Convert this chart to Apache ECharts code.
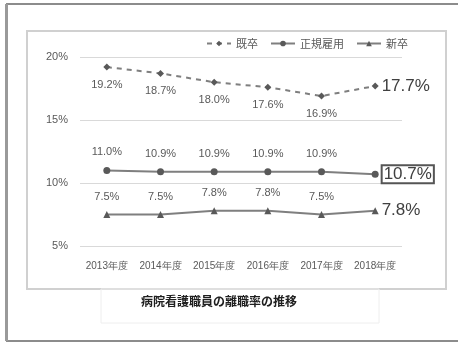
<!DOCTYPE html>
<html><head><meta charset="utf-8">
<script src="https://cdn.jsdelivr.net/npm/echarts@6/dist/echarts.min.js"></script>
<style>html,body{margin:0;padding:0;background:#fff}#c{width:458px;height:345px}</style>
</head><body><div id="c"></div>
<script>
const categories = ['2013年度','2014年度','2015年度','2016年度','2017年度','2018年度'];
const seriesNames = ['既卒','正規雇用','新卒'];
const kisotsu = [19.2, 18.7, 18.0, 17.6, 16.9, 17.7];
const seiki = [11.0, 10.9, 10.9, 10.9, 10.9, 10.7];
const shinsotsu = [7.5, 7.5, 7.8, 7.8, 7.5, 7.8];
const yTicks = [5, 10, 15, 20];
const title = '病院看護職員の離職率の推移';

const FONT = '"Liberation Sans Narrow","Liberation Sans",sans-serif';
const gray = '#7f7f7f';
function series(name, data, pos, sym, lineType, boxed){
  const n = data.length;
  return {
    name: name, type: 'line', data: data.map((v,i)=>{
      if (i === n-1) {
        return {value: v, label: {position: 'right', distance: 3, fontSize: 17, color: '#404040',
          borderColor: boxed ? '#555' : 'transparent', borderWidth: boxed ? 2 : 0, padding: boxed ? [1,2,0,2] : 0}};
      }
      return v;
    }),
    symbol: sym, symbolSize: 7, showAllSymbol: true,
    lineStyle: {color: gray, width: 2, type: lineType},
    itemStyle: {color: '#595959'},
    label: {show: true, position: pos, distance: 9, fontFamily: FONT, fontSize: 11, color: '#595959',
      formatter: p => p.value.toFixed(1) + '%'},
    emphasis: {disabled: true}
  };
}
const chart = echarts.init(document.getElementById('c'), null, {renderer: 'canvas'});
chart.setOption({
  animation: false,
  textStyle: {fontFamily: FONT},
  graphic: [
    {type: 'rect', shape: {x: 7, y: 4, width: 460, height: 337}, style: {fill: 'none', stroke: '#8c8c8c', lineWidth: 2}, z: -10},
    {type: 'rect', shape: {x: 5, y: 4, width: 3, height: 337}, style: {fill: '#9a9a9a'}, z: -10},
    {type: 'rect', shape: {x: 27, y: 31, width: 419, height: 258}, style: {fill: 'none', stroke: '#d0d0d0', lineWidth: 2}, z: -10},
    {type: 'rect', shape: {x: 101, y: 289, width: 278, height: 34}, style: {fill: 'none', stroke: '#eeeeee', lineWidth: 1}, z: -10},
    {type: 'text', left: 141, top: 295, style: {text: title, fontSize: 12, fontWeight: 'bold', fill: '#202020', fontFamily: '"Noto Sans CJK JP",sans-serif'}}
  ],
  legend: {
    data: seriesNames, right: 46, top: 36, itemWidth: 24, itemHeight: 7, itemGap: 12,
    backgroundColor: '#fff', padding: [2, 4],
    textStyle: {fontSize: 11, color: '#595959', fontFamily: '"Noto Sans CJK JP",sans-serif'}
  },
  grid: {left: 80, right: 56, top: 57, bottom: 99, containLabel: false},
  xAxis: {
    type: 'category', data: categories, boundaryGap: true,
    axisLine: {show: false}, axisTick: {show: false},
    axisLabel: {interval: 0, fontSize: 10, color: '#595959', margin: 15, fontFamily: FONT}
  },
  yAxis: {
    type: 'value', min: 5, max: 20, interval: 5,
    axisLine: {show: false}, axisTick: {show: false},
    axisLabel: {fontSize: 11, color: '#595959', margin: 12, formatter: v => yTicks.includes(v) ? v + '%' : ''},
    splitLine: {lineStyle: {color: '#d9d9d9', width: 1}}
  },
  series: [
    series(seriesNames[0], kisotsu, 'bottom', 'diamond', [5,5], false),
    series(seriesNames[1], seiki, 'top', 'circle', 'solid', true),
    series(seriesNames[2], shinsotsu, 'top', 'triangle', 'solid', false)
  ]
});
</script></body></html>
